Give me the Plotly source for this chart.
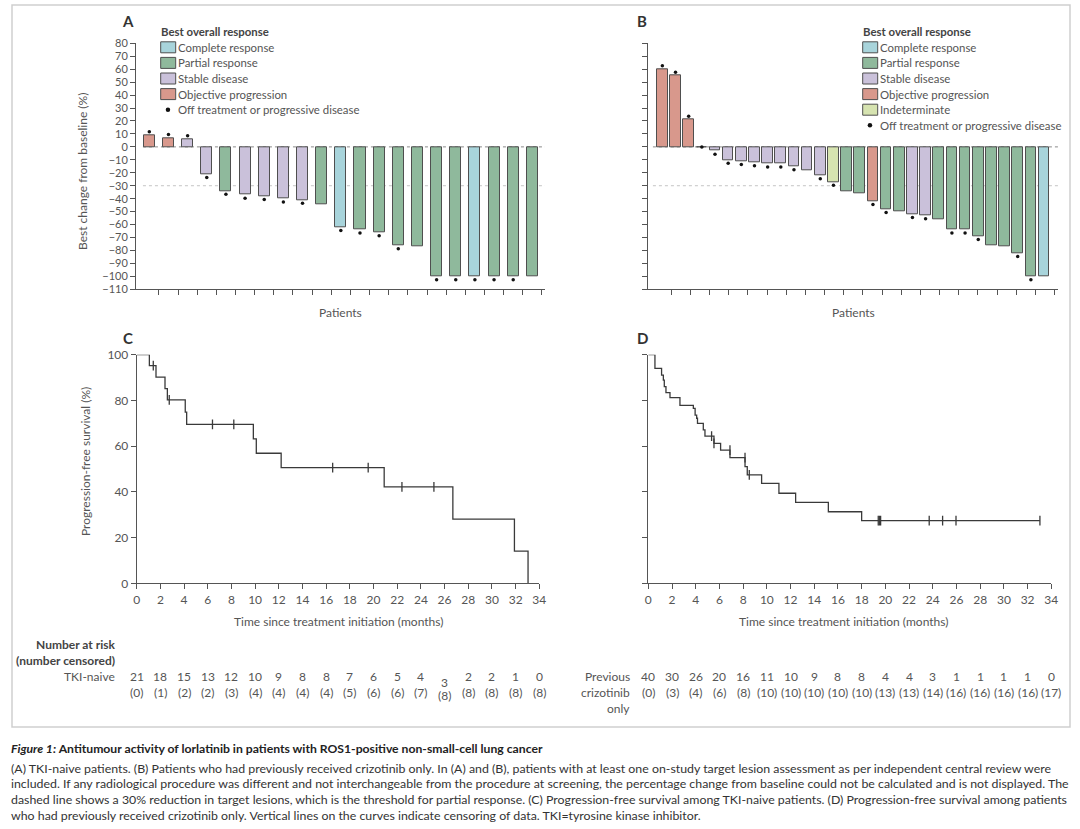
import plotly.graph_objects as go

W, H = 1080, 829
def px(x): return x / W
def py(y): return 1 - y / H

FONT = "Lato, 'Open Sans', sans-serif"
CAPFONT = "Lato, sans-serif"
TXT = "#555555"
AX = "#555555"

# ---------------- data ----------------
# Panel A: TKI-naive waterfall
a_values = [9, 7, 6, -21, -34, -37, -38, -40, -41, -44, -62, -64, -66, -76, -77,
            -100, -100, -100, -100, -100, -100]
a_response = ["OP", "OP", "SD", "SD", "PR", "SD", "SD", "SD", "SD", "PR", "CR", "PR",
              "PR", "PR", "PR", "PR", "PR", "CR", "PR", "PR", "PR"]
a_offtreat = [1, 1, 1, 1, 1, 1, 1, 1, 1, 0, 1, 1, 1, 1, 0, 1, 1, 1, 1, 1, 0]

# Panel B: previous crizotinib only waterfall
b_values = [60, 55, 21, 0, -3, -10, -11, -12, -13, -13, -15, -18, -22, -27, -34, -36,
            -42, -48, -50, -52, -53, -56, -64, -64, -69, -76, -77, -82, -100, -100]
b_response = ["OP", "OP", "OP", "SD", "SD", "SD", "SD", "SD", "SD", "SD", "SD", "SD",
              "SD", "IN", "PR", "PR", "OP", "PR", "PR", "SD", "SD", "PR", "PR", "PR",
              "PR", "PR", "PR", "PR", "PR", "CR"]
b_offtreat = [1, 1, 1, 1, 1, 1, 1, 1, 1, 1, 1, 0, 1, 1, 0, 0, 1, 1, 0, 1, 1, 0, 1, 1,
              1, 0, 0, 1, 1, 0]

# Panel C: PFS, TKI-naive (step curve)
c_times = [0, 1.07, 1.63, 2.39, 2.59, 4.1, 4.22, 9.85, 10.1, 12.2, 20.9, 26.7, 31.9, 33.05]
c_surv = [100, 95.2, 90.2, 85.2, 80.2, 74.9, 69.5, 63.2, 56.9, 50.6, 42.2, 28.1, 14.1, 0]
c_cens_t = [1.4, 2.75, 6.4, 8.2, 16.55, 19.55, 22.4, 25.1]
c_cens_s = [95.2, 80.2, 69.5, 69.5, 50.6, 50.6, 42.2, 42.2]

# Panel D: PFS, previous crizotinib only
d_times = [0, 0.56, 1.12, 1.27, 1.35, 1.49, 1.83, 2.67, 3.8, 3.95, 4.08, 4.15, 4.64,
           4.78, 5.54, 6.1, 6.89, 8.16, 8.35, 9.56, 11.02, 12.43, 15.19, 18.0, 33.04]
d_surv = [100, 94.0, 91.1, 88.9, 86.0, 83.4, 81.2, 77.8, 76.5, 73.6, 72.2, 70.0, 67.1,
          64.4, 61.2, 58.3, 55.0, 51.0, 47.4, 43.7, 39.4, 35.4, 31.3, 27.4, 27.4]
d_cens_t = [5.34, 5.54, 6.89, 8.16, 8.52, 19.4, 19.5, 19.6, 23.7, 24.83, 25.96, 33.04]
d_cens_s = [64.4, 61.2, 58.3, 55.0, 47.4, 27.4, 27.4, 27.4, 27.4, 27.4, 27.4, 27.4]

# Number at risk tables
risk_times = [0, 2, 4, 6, 8, 10, 12, 14, 16, 18, 20, 22, 24, 26, 28, 30, 32, 34]
c_at_risk = [21, 18, 15, 13, 12, 10, 9, 8, 8, 7, 6, 5, 4, 3, 2, 2, 1, 0]
c_censored = [0, 1, 2, 2, 3, 4, 4, 4, 4, 5, 6, 6, 7, 8, 8, 8, 8, 8]
d_at_risk = [40, 30, 26, 20, 16, 11, 10, 9, 8, 8, 4, 4, 3, 1, 1, 1, 1, 0]
d_censored = [0, 3, 4, 6, 8, 10, 10, 10, 10, 10, 13, 13, 14, 16, 16, 16, 16, 17]

resp_colors = {"CR": "#a8d4db", "PR": "#8fb99c", "SD": "#cac1da", "OP": "#d8988c", "IN": "#d6e3b0"}
a_legend = [("CR", "Complete response"), ("PR", "Partial response"), ("SD", "Stable disease"),
            ("OP", "Objective progression")]
b_legend = a_legend + [("IN", "Indeterminate")]
caption_title = "<b><i>Figure 1:</i> Antitumour activity of lorlatinib in patients with ROS1-positive non-small-cell lung cancer</b>"
caption_lines = [
    "(A) TKI-naive patients. (B) Patients who had previously received crizotinib only. In (A) and (B), patients with at least one on-study target lesion assessment as per independent central review were",
    "included. If any radiological procedure was different and not interchangeable from the procedure at screening, the percentage change from baseline could not be calculated and is not displayed. The",
    "dashed line shows a 30% reduction in target lesions, which is the threshold for partial response. (C) Progression-free survival among TKI-naive patients. (D) Progression-free survival among patients",
    "who had previously received crizotinib only. Vertical lines on the curves indicate censoring of data. TKI=tyrosine kinase inhibitor.",
]

fig = go.Figure()

def dot_pos(values, flags):
    xs, ys = [], []
    for i, (v, f) in enumerate(zip(values, flags)):
        if f:
            xs.append(i)
            ys.append(v + 2.6 if v > 0 else (v - 2.6 if v < 0 else 0))
    return xs, ys

for vals, resp, flags, width, xa, ya in [
    (a_values, a_response, a_offtreat, 0.58, "x", "y"),
    (b_values, b_response, b_offtreat, 0.81, "x2", "y2"),
]:
    fig.add_trace(go.Bar(
        x=list(range(len(vals))), y=vals, width=width,
        marker=dict(color=[resp_colors[r] for r in resp], line=dict(color="#4f4f4f", width=1)),
        xaxis=xa, yaxis=ya, showlegend=False, hoverinfo="skip"))
    dx, dy = dot_pos(vals, flags)
    fig.add_trace(go.Scatter(
        x=dx, y=dy, mode="markers", marker=dict(color="#111111", size=3.5),
        xaxis=xa, yaxis=ya, showlegend=False, hoverinfo="skip"))

for t, s, ct, cs, xa, ya in [
    (c_times, c_surv, c_cens_t, c_cens_s, "x3", "y3"),
    (d_times, d_surv, d_cens_t, d_cens_s, "x4", "y4"),
]:
    fig.add_trace(go.Scatter(
        x=t, y=s, mode="lines", line=dict(color="#3a3a3a", width=1.3, shape="hv"),
        xaxis=xa, yaxis=ya, showlegend=False, hoverinfo="skip"))
    fig.add_trace(go.Scatter(
        x=ct, y=cs, mode="markers",
        marker=dict(symbol="line-ns-open", size=7, color="#3a3a3a",
                    line=dict(color="#3a3a3a", width=1.3)),
        xaxis=xa, yaxis=ya, showlegend=False, hoverinfo="skip"))

def ax(**kw):
    d = dict(showline=True, linecolor=AX, linewidth=1, ticks="outside", ticklen=5,
             tickcolor=AX, tickwidth=1, showgrid=False, zeroline=False, automargin=False,
             tickfont=dict(family=FONT, size=12, color=TXT), fixedrange=True)
    d.update(kw)
    return d

wf_ydom = [py(289.3), py(43.3)]
km_ydom = [py(583.3), py(354.7)]
b_tick_px = [671.3 + 19.17 * k for k in range(21)]
b_ticks = [(p - 662.3) / 13.17 for p in b_tick_px]

fig.update_layout(
    xaxis=ax(domain=[px(136), px(545)], range=[-0.695, 20.66],
             tickvals=[k + 0.5 for k in range(21)], showticklabels=False, anchor="y"),
    yaxis=ax(domain=wf_ydom, range=[-110, 80], tickvals=list(range(-110, 81, 10)), anchor="x",
             tickfont=dict(family=FONT, size=11, color=TXT)),
    xaxis2=ax(domain=[px(648), px(1058)], range=[-1.09, 30.06], tickvals=b_ticks,
              showticklabels=False, anchor="y2"),
    yaxis2=ax(domain=wf_ydom, range=[-110, 80], tickvals=list(range(-110, 81, 10)),
              showticklabels=False, anchor="x2"),
    xaxis3=ax(domain=[px(136.7), px(539.3)], range=[0, 34], tickvals=risk_times, anchor="y3"),
    yaxis3=ax(domain=km_ydom, range=[0, 100], tickvals=[0, 20, 40, 60, 80, 100], anchor="x3"),
    xaxis4=ax(domain=[px(648.3), px(1051.3)], range=[0, 34], tickvals=risk_times, anchor="y4"),
    yaxis4=ax(domain=km_ydom, range=[0, 100], tickvals=[0, 20, 40, 60, 80, 100],
              showticklabels=False, anchor="x4"),
)

shapes = []
# reference lines (0 and -30 %)
for xa, ya, start in [("x", "y", 0.017), ("x2", "y2", 0.012)]:
    shapes.append(dict(type="line", xref=f"{xa} domain", yref=ya, x0=start, x1=1.0, y0=0, y1=0,
                       line=dict(color="#8a8a8a", width=1, dash="dot"), layer="below"))
    shapes.append(dict(type="line", xref=f"{xa} domain", yref=ya, x0=start, x1=1.0, y0=-30, y1=-30,
                       line=dict(color="#c4c4c4", width=1, dash="dot"), layer="below"))
# outer frame
shapes.append(dict(type="rect", xref="paper", yref="paper", x0=px(12), x1=px(1070),
                   y0=py(727), y1=py(5), line=dict(color="#cfcfcf", width=1.5)))

ann = []
def text(x, y, s, size=12, color=TXT, xanchor="left", bold=False, family=FONT, angle=0,
         xref="paper", yanchor="middle"):
    ann.append(dict(x=x if xref != "paper" else px(x), y=py(y), xref=xref, yref="paper",
                    text=f"<b>{s}</b>" if bold else s, showarrow=False, xanchor=xanchor,
                    yanchor=yanchor, textangle=angle,
                    font=dict(family=family, size=size, color=color)))

# panel letters
for lx, ly, lt in [(128.3, 21, "A"), (641.7, 21, "B"), (128.3, 338, "C"), (642.3, 338, "D")]:
    text(lx, ly, lt, size=15, color="#333333", xanchor="center", bold=True)

# legends
LEG = 11.4
def legend(x0, items):
    text(x0 - 2, 31.7, "Best overall response", size=LEG, color="#444444", bold=True)
    rows = [47.3, 62.9, 78.5, 94.1, 109.7, 125.3]
    for (key, lab), ry in zip(items, rows):
        shapes.append(dict(type="rect", xref="paper", yref="paper",
                           x0=px(x0), x1=px(x0 + 15), y0=py(ry + 5.5), y1=py(ry - 5.5),
                           fillcolor=resp_colors[key], line=dict(color="#4f4f4f", width=1)))
        text(x0 + 15.5, ry, lab, size=LEG)
    ry = rows[len(items)]
    shapes.append(dict(type="circle", xref="paper", yref="paper",
                       x0=px(x0 + 5), x1=px(x0 + 9.5), y0=py(ry + 2.25), y1=py(ry - 2.25),
                       fillcolor="#111111", line=dict(width=0)))
    text(x0 + 15.5, ry, "Off treatment or progressive disease", size=LEG)

legend(160.7, a_legend)
legend(862.7, b_legend)

# axis titles
text(83, 172, "Best change from baseline (%)", size=12, xanchor="center", angle=-90)
text(340, 313, "Patients", size=12, xanchor="center")
text(853, 313, "Patients", size=12, xanchor="center")
text(85, 462, "Progression-free survival (%)", size=12, xanchor="center", angle=-90)
text(338, 621, "Time since treatment initiation (months)", size=12, xanchor="center")
text(843, 621, "Time since treatment initiation (months)", size=12, xanchor="center")

# number at risk tables
text(117, 644, "Number at risk", size=12, color="#444444", xanchor="right", bold=True)
text(117, 660, "(number censored)", size=12, color="#444444", xanchor="right", bold=True)
text(117, 676, "TKI-naive", size=12, xanchor="right")
for t, n, c in zip(risk_times, c_at_risk, c_censored):
    drop = 6 if t == 26 else 0
    text(t, 676 + drop, str(n), size=12, xanchor="center", xref="x3")
    text(t, 692 + drop / 2, f"({c})", size=12, xanchor="center", xref="x3")
text(632, 676, "Previous", size=12, xanchor="right")
text(632, 692, "crizotinib", size=12, xanchor="right")
text(632, 708, "only", size=12, xanchor="right")
for t, n, c in zip(risk_times, d_at_risk, d_censored):
    text(t, 676, str(n), size=12, xanchor="center", xref="x4")
    text(t, 692, f"({c})", size=12, xanchor="center", xref="x4")

# caption
text(9, 748, caption_title, size=12.2, color="#222222", family=CAPFONT)
for i, line in enumerate(caption_lines):
    text(9, 768 + i * 15.7, line, size=12.35, color="#333333", family=CAPFONT)

fig.update_layout(
    width=W, height=H, autosize=False,
    margin=dict(l=0, r=0, t=0, b=0, pad=0, autoexpand=False),
    paper_bgcolor="white", plot_bgcolor="white", showlegend=False,
    shapes=shapes, annotations=ann, bargap=0,
)

fig.write_html("out.html", config={"displayModeBar": False},
               post_script="document.body.style.margin='0';document.body.style.overflow='hidden';")
